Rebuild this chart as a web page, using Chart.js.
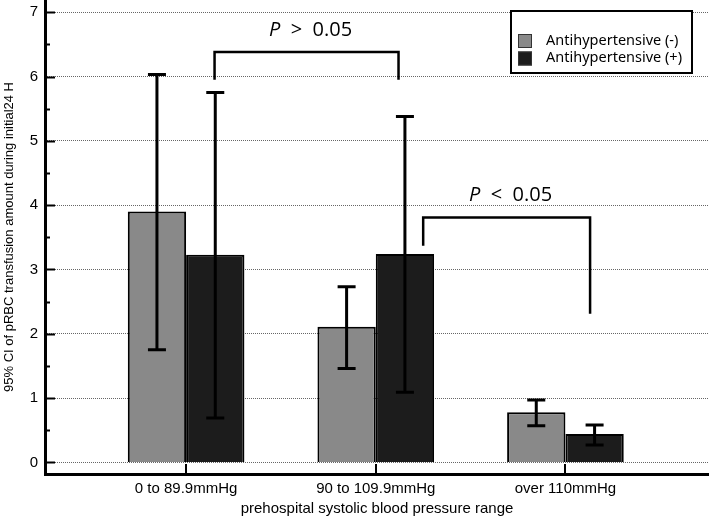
<!DOCTYPE html>
<html>
<head>
<meta charset="utf-8">
<script src="https://cdn.jsdelivr.net/npm/chart.js@4.4.0/dist/chart.umd.min.js"></script>
<style>
  html, body { margin: 0; padding: 0; background: #fff; }
  #wrap { width: 709px; height: 518px; position: relative; }
</style>
</head>
<body>
<div id="wrap"><canvas id="bpChart"></canvas></div>
<script>
// categories and series
const categories = ['0 to 89.9mmHg', '90 to 109.9mmHg', 'over 110mmHg'];
const seriesNames = ['Antihypertensive (-)', 'Antihypertensive (+)'];
const noDrugMean = [3.90, 2.11, 0.78];
const noDrugUpper = [6.03, 2.73, 0.97];
const noDrugLower = [1.75, 1.46, 0.57];
const drugMean = [3.23, 3.24, 0.44];
const drugUpper = [5.75, 5.38, 0.58];
const drugLower = [0.69, 1.09, 0.27];
const yTicks = [0, 0.5, 1, 1.5, 2, 2.5, 3, 3.5, 4, 4.5, 5, 5.5, 6, 6.5, 7];

// significance brackets (x in category units, y in data units)
const bracketText = ['>  0.05', '<  0.05'];
const bracketX1 = [0.15, 1.25];
const bracketX2 = [1.12, 2.13];
const bracketTop = [6.38, 3.81];
const bracketLeftEnd = [5.95, 3.37];
const bracketRightEnd = [5.95, 2.31];

const ctx = document.getElementById('bpChart').getContext('2d');

// error bars on top of each bar
const errorBars = {
  id: 'errorBars',
  afterDatasetsDraw(chart) {
    const c = chart.ctx;
    const y = chart.scales.y;
    const uppers = [noDrugUpper, drugUpper];
    const lowers = [noDrugLower, drugLower];
    c.save();
    c.strokeStyle = '#000';
    c.lineWidth = 3;
    chart.data.datasets.forEach((ds, i) => {
      chart.getDatasetMeta(i).data.forEach((bar, j) => {
        const yt = y.getPixelForValue(uppers[i][j]);
        const yb = y.getPixelForValue(lowers[i][j]);
        c.beginPath();
        c.moveTo(bar.x, yt); c.lineTo(bar.x, yb);
        c.moveTo(bar.x - 9, yt); c.lineTo(bar.x + 9, yt);
        c.moveTo(bar.x - 9, yb); c.lineTo(bar.x + 9, yb);
        c.stroke();
      });
    });
    c.restore();
  }
};

// inward tick marks, brackets, legend box
const extras = {
  id: 'extras',
  afterDraw(chart) {
    const c = chart.ctx;
    const xs = chart.scales.x, ys = chart.scales.y;
    const area = chart.chartArea;
    c.save();
    c.strokeStyle = '#000';
    c.lineWidth = 2;
    yTicks.forEach(v => {
      const py = Math.round(ys.getPixelForValue(v)) + 0.5;
      const len = Number.isInteger(v) ? 10 : 5;
      c.beginPath(); c.moveTo(area.left, py); c.lineTo(area.left + len, py); c.stroke();
    });
    categories.forEach((_, i) => {
      const px = Math.round(xs.getPixelForValue(i));
      c.beginPath(); c.moveTo(px, area.bottom); c.lineTo(px, area.bottom - 10); c.stroke();
    });

    // brackets
    c.lineWidth = 2.5;
    bracketText.forEach((t, i) => {
      const x1 = xs.getPixelForValue(bracketX1[i]);
      const x2 = xs.getPixelForValue(bracketX2[i]);
      const yt = ys.getPixelForValue(bracketTop[i]);
      c.beginPath();
      c.moveTo(x1, ys.getPixelForValue(bracketLeftEnd[i]));
      c.lineTo(x1, yt);
      c.lineTo(x2, yt);
      c.lineTo(x2, ys.getPixelForValue(bracketRightEnd[i]));
      c.stroke();
      c.fillStyle = '#000';
      c.textBaseline = 'alphabetic';
      c.font = 'italic 20px "Open Sans"';
      const pw = c.measureText('P  ').width;
      c.font = '20px "Open Sans"';
      const tw = c.measureText(t).width;
      const cx = (x1 + x2) / 2 + 4;
      const base = yt - 16;
      c.font = 'italic 20px "Open Sans"';
      c.textAlign = 'left';
      c.fillText('P', cx - (pw + tw) / 2, base);
      c.font = '20px "Open Sans"';
      c.fillText(t, cx - (pw + tw) / 2 + pw, base);
    });

    // legend
    c.fillStyle = '#fff';
    c.fillRect(511, 11, 181, 62);
    c.lineWidth = 2;
    c.strokeStyle = '#000';
    c.strokeRect(511, 11, 181, 62);
    chart.data.datasets.forEach((ds, i) => {
      const top = 34 + i * 17.5;
      c.fillStyle = ds.backgroundColor;
      c.fillRect(518, top, 14, 14);
      c.lineWidth = 1;
      c.strokeStyle = '#333';
      c.strokeRect(518.5, top + 0.5, 13, 13);
      c.fillStyle = '#000';
      c.font = '14.5px "Noto Sans"';
      c.textAlign = 'left';
      c.textBaseline = 'middle';
      c.fillText(ds.label, 546, top + 6.5);
    });
    c.restore();
  }
};

const chart = new Chart(ctx, {
  type: 'bar',
  data: {
    datasets: [{
      label: seriesNames[0],
      data: noDrugMean.map((v, i) => ({ x: i, y: v })),
      backgroundColor: '#898989',
      borderColor: '#000',
      borderWidth: 2
    }, {
      label: seriesNames[1],
      data: drugMean.map((v, i) => ({ x: i, y: v })),
      backgroundColor: '#1c1c1c',
      borderColor: '#000',
      borderWidth: 2
    }]
  },
  options: {
    responsive: true,
    maintainAspectRatio: false,
    animation: false,
    categoryPercentage: 0.615,
    barPercentage: 1,
    layout: { padding: 0 },
    plugins: {
      legend: { display: false },
      tooltip: { enabled: false }
    },
    scales: {
      x: {
        type: 'linear',
        offset: false,
        min: -0.744,
        max: 2.757,
        afterBuildTicks: scale => { scale.ticks = categories.map((_, i) => ({ value: i })); },
        afterFit: scale => {
          scale.height = 44;
          scale.paddingLeft = 0;
          scale.paddingRight = 0;
        },
        grid: { display: false, drawTicks: false },
        border: { color: '#000', width: 3 },
        ticks: {
          padding: 6,
          maxRotation: 0,
          color: '#000',
          font: { family: '"Liberation Sans"', size: 15 },
          callback: v => categories[v]
        },
        title: {
          display: true,
          text: 'prehospital systolic blood pressure range',
          color: '#000',
          padding: { top: 0, bottom: 0 },
          font: { family: '"Liberation Sans"', size: 15 }
        }
      },
      y: {
        min: -0.18,
        max: 7.19,
        afterBuildTicks: scale => { scale.ticks = yTicks.map(v => ({ value: v })); },
        afterFit: scale => {
          scale.width = 45;
          scale.paddingTop = 0;
          scale.paddingBottom = 0;
        },
        grid: {
          drawTicks: false,
          lineWidth: 1,
          color: c => Number.isInteger(c.tick.value) ? '#666' : 'rgba(0,0,0,0)'
        },
        border: { color: '#000', width: 3, dash: [1, 1] },
        ticks: {
          padding: 7,
          color: '#000',
          font: { family: '"Liberation Sans"', size: 15 },
          callback: v => Number.isInteger(v) ? v : ''
        },
        title: {
          display: true,
          text: '95% CI of pRBC transfusion amount during initial24 H',
          color: '#000',
          padding: { top: 2, bottom: 0 },
          font: { family: '"Liberation Sans"', size: 13 }
        }
      }
    }
  },
  plugins: [errorBars, extras]
});
</script>
</body>
</html>
